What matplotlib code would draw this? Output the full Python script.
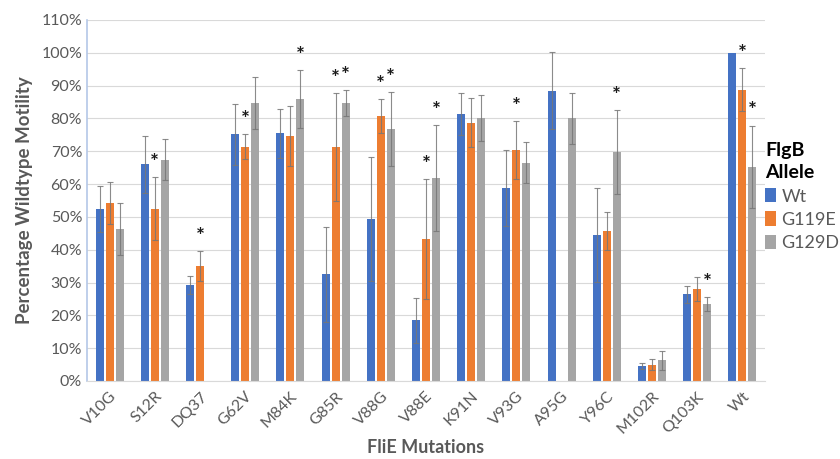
import matplotlib
matplotlib.use("Agg")
import matplotlib.pyplot as plt
import numpy as np

plt.rcParams['font.family'] = ['Lato', 'DejaVu Sans']

categories = ["V10G", "S12R", "DQ37", "G62V", "M84K", "G85R", "V88G", "V88E",
              "K91N", "V93G", "A95G", "Y96C", "M102R", "Q103K", "Wt"]
series_names = ["Wt", "G119E", "G129D"]

wt_vals   = [52.3, 66.0, 29.3, 75.1, 75.4, 32.5, 49.4, 18.5, 81.3, 58.9, 88.4, 44.5, 4.6, 26.4, 100.0]
wt_err    = [7.0, 8.6, 2.7, 9.3, 7.6, 14.5, 18.8, 6.9, 6.3, 11.6, 11.7, 14.4, 0.9, 2.6, 0.0]
g119e_vals = [54.3, 52.5, 35.1, 71.3, 74.6, 71.3, 80.8, 43.3, 78.7, 70.3, np.nan, 45.6, 5.0, 28.0, 88.7]
g119e_err  = [6.4, 9.6, 4.5, 3.8, 9.1, 16.4, 5.2, 18.3, 7.4, 8.9, np.nan, 5.8, 1.6, 3.6, 6.6]
g129d_vals = [46.3, 67.4, np.nan, 84.7, 86.0, 84.7, 76.8, 61.8, 80.1, 66.5, 80.0, 69.7, 6.3, 23.5, 65.3]
g129d_err  = [7.9, 6.3, np.nan, 8.0, 8.8, 3.9, 11.2, 16.2, 7.1, 6.3, 7.7, 12.8, 2.9, 2.1, 12.5]

# significance stars: (category index, series index)
stars = [(1, 1), (2, 1), (3, 1), (4, 2), (5, 1), (5, 2), (6, 1), (6, 2),
         (7, 1), (7, 2), (9, 1), (11, 2), (13, 2), (14, 1), (14, 2)]

colors = ["#4472C4", "#ED7D31", "#A5A5A5"]
text_gray = "#595959"

fig = plt.figure(figsize=(8.4, 4.59), dpi=100)
ax = fig.add_axes([0.1036, 0.17, 0.807, 0.7866])

x = np.arange(len(categories))
bw = 0.177
step = 0.222
vals = [wt_vals, g119e_vals, g129d_vals]
errs = [wt_err, g119e_err, g129d_err]
for i, (v, e) in enumerate(zip(vals, errs)):
    xs = x + (i - 1) * step
    v = np.array(v, dtype=float)
    e = np.array(e, dtype=float)
    ax.bar(xs, v, width=bw, color=colors[i], label=series_names[i], zorder=2)
    m = ~np.isnan(v) & (e > 0)
    ax.errorbar(xs[m], v[m], yerr=e[m], fmt='none', ecolor='#777777',
                elinewidth=0.8, capsize=2.2, capthick=0.8, alpha=0.85, zorder=3)

for ci, si in stars:
    v = vals[si][ci]
    e = errs[si][ci]
    top = v + (e if not np.isnan(e) else 0)
    ax.annotate("*", xy=(x[ci] + (si - 1) * step, top), xytext=(0, 3),
                textcoords='offset points', ha='center', va='bottom',
                fontsize=15, fontweight='bold', color='#1a1a1a', zorder=4)

ax.set_xlim(-0.5, len(categories) - 0.5)
ax.set_ylim(0, 110)
ax.set_yticks(np.arange(0, 111, 10))
ax.set_yticklabels([f"{t}%" for t in range(0, 111, 10)], color=text_gray, fontsize=11.5)
ax.set_xticks(x)
ax.set_xticklabels(categories, rotation=45, ha='right', rotation_mode='anchor',
                   color=text_gray, fontsize=11.5)
ax.tick_params(axis='both', length=0)
ax.tick_params(axis='x', pad=6)
ax.yaxis.grid(True, color='#D9D9D9', linewidth=0.8, zorder=0)
ax.set_axisbelow(True)
for s in ['top', 'right']:
    ax.spines[s].set_visible(False)
ax.spines['left'].set_color('#B4C7E7')
ax.spines['left'].set_linewidth(1.2)
ax.spines['bottom'].set_color('#D9D9D9')

ax.set_ylabel("Percentage Wildtype Motility", color=text_gray, fontsize=13.5,
              fontweight='bold', labelpad=6)
ax.set_xlabel("FliE Mutations", color=text_gray, fontsize=13, fontweight='bold', labelpad=2)

leg = ax.legend(loc='upper left', bbox_to_anchor=(0.911, 0.69), bbox_transform=fig.transFigure,
                frameon=False, title="FlgB\nAllele", fontsize=13,
                handlelength=0.6, handleheight=0.85, handletextpad=0.3,
                labelspacing=0.38, borderaxespad=0, borderpad=0)
leg.get_title().set_fontweight('bold')
leg.get_title().set_fontsize(14)
leg.get_title().set_linespacing(1.35)
leg._legend_box.align = 'left'
for t in leg.get_texts():
    t.set_color(text_gray)

fig.savefig("out.png", dpi=100)
